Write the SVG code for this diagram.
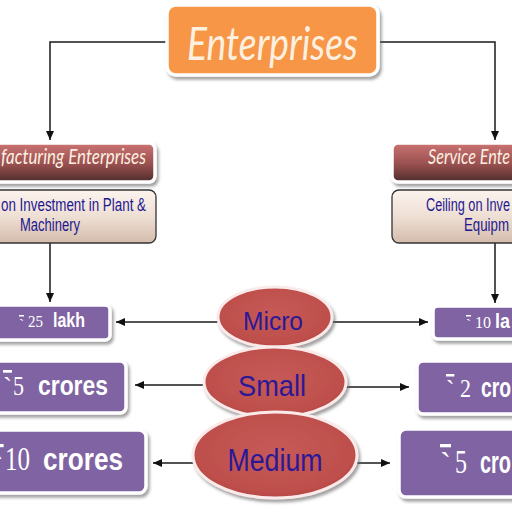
<svg xmlns="http://www.w3.org/2000/svg" width="512" height="512" viewBox="0 0 512 512">
<defs>
  <linearGradient id="maroon" x1="0" y1="0" x2="0" y2="1">
    <stop offset="0" stop-color="#CC7373"/>
    <stop offset="0.55" stop-color="#98504F"/>
    <stop offset="1" stop-color="#4E2C2C"/>
  </linearGradient>
  <linearGradient id="beige" x1="0" y1="0" x2="0" y2="1">
    <stop offset="0" stop-color="#FCF4EE"/>
    <stop offset="0.5" stop-color="#EEDFD4"/>
    <stop offset="1" stop-color="#D4BCAB"/>
  </linearGradient>
  <radialGradient id="red" cx="0.5" cy="0.45" r="0.6">
    <stop offset="0" stop-color="#C65A57"/>
    <stop offset="0.8" stop-color="#BE4F4C"/>
    <stop offset="1" stop-color="#AE4340"/>
  </radialGradient>
  <filter id="sh" x="-10%" y="-20%" width="125%" height="150%">
    <feDropShadow dx="2" dy="3" stdDeviation="1.5" flood-color="#666" flood-opacity="0.6"/>
  </filter>
  <marker id="arr" markerUnits="userSpaceOnUse" markerWidth="9" markerHeight="8" refX="9" refY="4" orient="auto">
    <path d="M0,0 L9,4 L0,8 z" fill="#111"/>
  </marker>
  <style>
    .con{fill:none;stroke:#1a1a1a;stroke-width:1.5;marker-end:url(#arr)}
    .purple{fill:#8064A2;stroke:#FFFFFF;stroke-width:3.5;filter:url(#sh)}
    .head{fill:url(#maroon);stroke:#FFFFFF;stroke-width:3.5;filter:url(#sh)}
    .ceil{fill:url(#beige);stroke:#333333;stroke-width:1.3}
    .oval{fill:url(#red);stroke:#FBEAEA;stroke-width:3;filter:url(#sh)}
    .ital{font-family:Lato,"Open Sans","DejaVu Sans",sans-serif;font-style:italic;fill:#FDF0E0}
    .blue{font-family:"Liberation Sans",Arial,sans-serif;fill:#1E1890;font-size:17.5px}
    .oval-t{font-family:"Liberation Sans",Arial,sans-serif;fill:#2B1896;text-anchor:middle}
    .rs{font-family:"Liberation Serif","Times New Roman",serif;fill:#FFFFFF;text-decoration:overline}
    .num{font-family:"Liberation Serif","Times New Roman",serif;fill:#FFFFFF}
    .word{font-family:"Liberation Sans",Arial,sans-serif;font-weight:bold;fill:#FFFFFF}
  </style>
</defs>
<rect width="512" height="512" fill="#FFFFFF"/>

<g id="connectors">
  <path class="con" d="M166,42 H50 V140"/>
  <path class="con" d="M380,42 H495 V140"/>
  <path class="con" d="M50,243 V302"/>
  <path class="con" d="M495,243 V303"/>
  <path class="con" d="M218,322 H116"/>
  <path class="con" d="M204,385 H135"/>
  <path class="con" d="M193,463 H153"/>
  <path class="con" d="M332,322 H428"/>
  <path class="con" d="M346,387 H409"/>
  <path class="con" d="M357,463 H390"/>
</g>

<g id="enterprises">
  <rect x="167" y="5" width="211" height="70" rx="9" fill="#F79646" stroke="#FFFFFF" stroke-width="3.5" filter="url(#sh)"/>
  <text class="ital" x="187" y="60" font-size="46" textLength="171" lengthAdjust="spacingAndGlyphs">Enterprises</text>
</g>

<g id="manufacturing">
  <rect class="head" x="-60" y="143" width="215" height="39" rx="6"/>
  <text class="ital" x="1" y="164" font-size="21" textLength="145" lengthAdjust="spacingAndGlyphs">facturing Enterprises</text>
</g>

<g id="service">
  <rect class="head" x="392" y="143" width="215" height="39" rx="6"/>
  <text class="ital" x="428" y="164" font-size="21" textLength="82" lengthAdjust="spacingAndGlyphs">Service Ente</text>
</g>

<g id="ceiling-left">
  <rect class="ceil" x="-60" y="190" width="216" height="53" rx="7"/>
  <text class="blue" x="1" y="211" textLength="145" lengthAdjust="spacingAndGlyphs">on Investment in Plant &amp;</text>
  <text class="blue" x="20" y="231" textLength="60" lengthAdjust="spacingAndGlyphs">Machinery</text>
</g>

<g id="ceiling-right">
  <rect class="ceil" x="392" y="190" width="216" height="53" rx="7"/>
  <text class="blue" x="426" y="211" textLength="84" lengthAdjust="spacingAndGlyphs">Ceiling on Inve</text>
  <text class="blue" x="464" y="231" textLength="45" lengthAdjust="spacingAndGlyphs">Equipm</text>
</g>

<g id="micro">
  <ellipse class="oval" cx="275" cy="317" rx="57" ry="30"/>
  <text class="oval-t" x="273" y="330" font-size="25" textLength="60" lengthAdjust="spacingAndGlyphs">Micro</text>
</g>
<g id="small">
  <ellipse class="oval" cx="275" cy="382" rx="71" ry="35"/>
  <text class="oval-t" x="272" y="396" font-size="29" textLength="68" lengthAdjust="spacingAndGlyphs">Small</text>
</g>
<g id="medium">
  <ellipse class="oval" cx="275" cy="455" rx="82" ry="43"/>
  <text class="oval-t" x="275" y="471" font-size="31" textLength="95" lengthAdjust="spacingAndGlyphs">Medium</text>
</g>

<g id="m-micro">
  <rect class="purple" x="-10" y="305" width="120" height="35" rx="5"/>
  <text class="rs" x="19" y="329" font-size="15">`</text>
  <text class="num" x="28" y="327" font-size="16" textLength="15" lengthAdjust="spacingAndGlyphs">25</text>
  <text class="word" x="53" y="327" font-size="20" textLength="32" lengthAdjust="spacingAndGlyphs">lakh</text>
</g>
<g id="m-small">
  <rect class="purple" x="-10" y="361" width="136" height="52" rx="6"/>
  <text class="rs" x="3" y="396" font-size="27">`</text>
  <text class="num" x="13" y="395" font-size="28" textLength="11" lengthAdjust="spacingAndGlyphs">5</text>
  <text class="word" x="38" y="395" font-size="28" textLength="70" lengthAdjust="spacingAndGlyphs">crores</text>
</g>
<g id="m-medium">
  <rect class="purple" x="-10" y="430" width="156" height="63" rx="7"/>
  <text class="rs" x="-7" y="476" font-size="32">`</text>
  <text class="num" x="5" y="470" font-size="33" textLength="25" lengthAdjust="spacingAndGlyphs">10</text>
  <text class="word" x="43" y="470" font-size="32" textLength="80" lengthAdjust="spacingAndGlyphs">crores</text>
</g>

<g id="s-micro">
  <rect class="purple" x="433" y="306" width="90" height="33" rx="5"/>
  <text class="rs" x="466" y="329" font-size="15">`</text>
  <text class="num" x="475" y="328" font-size="16" textLength="16" lengthAdjust="spacingAndGlyphs">10</text>
  <text class="word" x="495" y="328" font-size="20" textLength="15" lengthAdjust="spacingAndGlyphs">la</text>
</g>
<g id="s-small">
  <rect class="purple" x="417" y="361" width="106" height="53" rx="6"/>
  <text class="rs" x="446" y="398" font-size="25">`</text>
  <text class="num" x="460" y="397" font-size="26" textLength="11" lengthAdjust="spacingAndGlyphs">2</text>
  <text class="word" x="481" y="397" font-size="28" textLength="30" lengthAdjust="spacingAndGlyphs">cro</text>
</g>
<g id="s-medium">
  <rect class="purple" x="399" y="429" width="124" height="68" rx="7"/>
  <text class="rs" x="440" y="476" font-size="33">`</text>
  <text class="num" x="455" y="473" font-size="34" textLength="12" lengthAdjust="spacingAndGlyphs">5</text>
  <text class="word" x="480" y="473" font-size="32" textLength="31" lengthAdjust="spacingAndGlyphs">cro</text>
</g>
</svg>
